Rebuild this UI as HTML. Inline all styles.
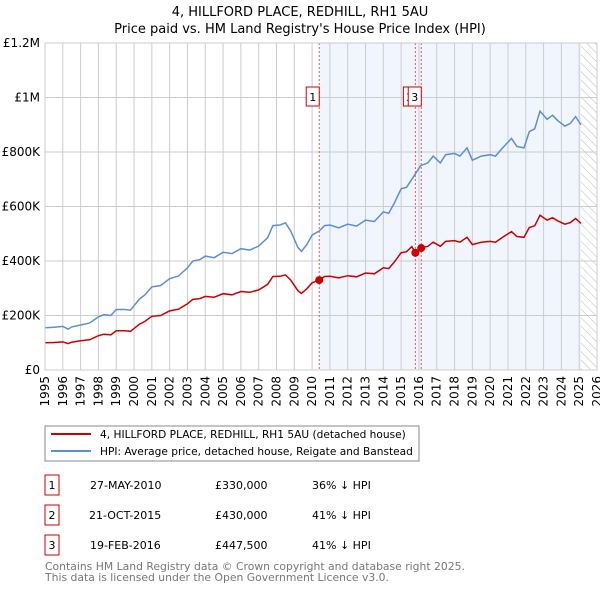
<!DOCTYPE html>
<html><head><meta charset="utf-8"><style>
body{margin:0;background:#fff;font-family:"DejaVu Sans","Liberation Sans",sans-serif;}
svg text{font-family:"DejaVu Sans","Liberation Sans",sans-serif;}
</style></head><body>
<svg id="c" width="600" height="590" viewBox="0 0 600 590" xmlns="http://www.w3.org/2000/svg">
<defs><pattern id="hatch" width="6" height="6" patternUnits="userSpaceOnUse" patternTransform="rotate(-45)"><line x1="0" y1="0" x2="0" y2="6" stroke="#bbb" stroke-width="1"/></pattern></defs>
<text x="300" y="16" text-anchor="middle" font-size="13">4, HILLFORD PLACE, REDHILL, RH1 5AU</text>
<text x="300" y="33" text-anchor="middle" font-size="13">Price paid vs. HM Land Registry's House Price Index (HPI)</text>
<g id="plot"></g>
<g>
<rect x="45" y="426" width="374" height="35" fill="#fff" stroke="#888"/>
<line x1="51" y1="434" x2="91" y2="434" stroke="#cc0000" stroke-width="2"/>
<text x="100" y="438" font-size="10.6">4, HILLFORD PLACE, REDHILL, RH1 5AU (detached house)</text>
<line x1="51" y1="451" x2="91" y2="451" stroke="#5b8fd4" stroke-width="2"/>
<text x="100" y="455" font-size="10.6">HPI: Average price, detached house, Reigate and Banstead</text>
</g>
<g font-size="11">
<rect x="45" y="475" width="14" height="20" fill="#fff" stroke="#cc0000"/><text x="52" y="489" text-anchor="middle">1</text>
<text x="90" y="489">27-MAY-2010</text><text x="215" y="489">£330,000</text><text x="312" y="489">36% ↓ HPI</text>
<rect x="45" y="505" width="14" height="20" fill="#fff" stroke="#cc0000"/><text x="52" y="519" text-anchor="middle">2</text>
<text x="89" y="519">21-OCT-2015</text><text x="215" y="519">£430,000</text><text x="312" y="519">41% ↓ HPI</text>
<rect x="45" y="535" width="14" height="20" fill="#fff" stroke="#cc0000"/><text x="52" y="549" text-anchor="middle">3</text>
<text x="90" y="549">19-FEB-2016</text><text x="215" y="549">£447,500</text><text x="312" y="549">41% ↓ HPI</text>
</g>
<text x="45" y="570" font-size="10.8" fill="#777">Contains HM Land Registry data © Crown copyright and database right 2025.</text>
<text x="45" y="581" font-size="10.8" fill="#777">This data is licensed under the Open Government Licence v3.0.</text>
</svg>
<script>
const hpiYears=[1995,1995.5,1996,1996.3,1996.5,1997,1997.5,1998,1998.3,1998.7,1999,1999.5,1999.8,2000.3,2000.6,2001,2001.5,2002,2002.5,2003,2003.3,2003.7,2004,2004.5,2005,2005.5,2006,2006.5,2007,2007.5,2007.8,2008.2,2008.5,2008.8,2009.2,2009.4,2009.7,2010,2010.4,2010.7,2011,2011.5,2012,2012.5,2013,2013.5,2014,2014.3,2014.6,2015,2015.3,2015.6,2015.8,2016.1,2016.5,2016.8,2017.2,2017.5,2018,2018.3,2018.7,2019,2019.5,2020,2020.3,2020.7,2021.2,2021.5,2021.9,2022.2,2022.5,2022.8,2023.2,2023.5,2023.8,2024.2,2024.5,2024.8,2025.1];
const hpiValues=[155,157,160,150,158,165,172,195,203,200,222,222,220,260,275,305,310,335,345,375,400,405,418,412,432,427,445,440,455,485,530,532,540,510,450,435,460,495,510,530,532,522,535,528,550,545,580,575,610,665,670,700,720,750,760,785,760,790,795,785,815,770,785,790,785,815,850,820,815,875,885,950,920,935,915,895,905,930,900];
const priceValues=[100,101,103,97,102,107,111,126,131,129,144,144,142,168,178,197,200,217,223,243,259,262,270,267,280,276,288,285,294,314,343,344,349,330,291,281,298,320,330,343,344,338,346,342,356,353,375,372,395,430,434,453,430,448,454,469,454,472,475,469,487,460,469,472,469,487,508,490,487,523,529,568,550,559,547,535,541,556,538];
const saleLabels=["1","2","3"];
const saleYears=[2010.4,2015.8,2016.13];
const salePrices=[330,430,447.5];
const yTicks=[0,200,400,600,800,1000,1200];
const yTickLabels=["£0","£200K","£400K","£600K","£800K","£1M","£1.2M"];
const xTicks=[1995,1996,1997,1998,1999,2000,2001,2002,2003,2004,2005,2006,2007,2008,2009,2010,2011,2012,2013,2014,2015,2016,2017,2018,2019,2020,2021,2022,2023,2024,2025,2026];
const X0=45,X1=597,Y0=370,Y1=43;
const xs=v=>X0+(v-1995)/(2026-1995)*(X1-X0);
const ys=v=>Y0-v/1200*(Y0-Y1);
const NS="http://www.w3.org/2000/svg";
const g=document.getElementById('plot');
function mk(t,a,p){const e=document.createElementNS(NS,t);for(const k in a)e.setAttribute(k,a[k]);(p||g).appendChild(e);return e;}
let e;
e=mk('rect',{x:xs(saleYears[0]),y:Y1,width:xs(2025.1)-xs(saleYears[0]),height:Y0-Y1,fill:'#eef3fc',opacity:0.8});


e=mk('rect',{x:xs(2025.1),y:Y1,width:X1-xs(2025.1),height:Y0-Y1,fill:'url(#hatch)'});


yTicks.forEach((t,i)=>{
 e=mk('line',{x1:X0,x2:X1,y1:ys(t),y2:ys(t),stroke:'#ccc'});
 
 
 e=mk('text',{x:X0-5,y:ys(t)+4,'text-anchor':'end','font-size':12});
 e.textContent=yTickLabels[i];
 
 
});
xTicks.forEach(t=>{
 e=mk('line',{x1:xs(t),x2:xs(t),y1:Y1,y2:Y0,stroke:'#ccc'});
 
 
 e=mk('text',{x:0,y:0,'text-anchor':'end','font-size':12,transform:`translate(${xs(t)+4},${Y0+6}) rotate(-90)`});
 e.textContent=t;
 
 
});
saleYears.forEach((s,i)=>{
 e=mk('line',{x1:xs(s),x2:xs(s),y1:Y1,y2:Y0,stroke:'#e55',"stroke-dasharray":'2,2'});
 
 
});
function pts(v){return hpiYears.map((y,i)=>xs(y).toFixed(1)+','+ys(v[i]).toFixed(1)).join(' ');}
e=mk('polyline',{points:pts(hpiValues),fill:'none',stroke:'#5b8fd4','stroke-width':1.5});


e=mk('polyline',{points:pts(priceValues),fill:'none',stroke:'#cc0000','stroke-width':1.5});


saleYears.forEach((s,i)=>{
 e=mk('circle',{cx:xs(s),cy:ys(salePrices[i]),r:4,fill:'#cc0000'});
 
 
 const bx=i==1?xs(s)-12:xs(s)-13;
 e=mk('rect',{x:bx,y:87,width:13,height:19,fill:'#fff',stroke:'#cc0000'});
 
 
 e=mk('text',{x:bx+6.5,y:101,'text-anchor':'middle','font-size':11});
 e.textContent=saleLabels[i];
 
 
});
e=mk('rect',{x:X0,y:Y1,width:X1-X0,height:Y0-Y1,fill:'none',stroke:'#ccc'});


</script>
</body></html>
